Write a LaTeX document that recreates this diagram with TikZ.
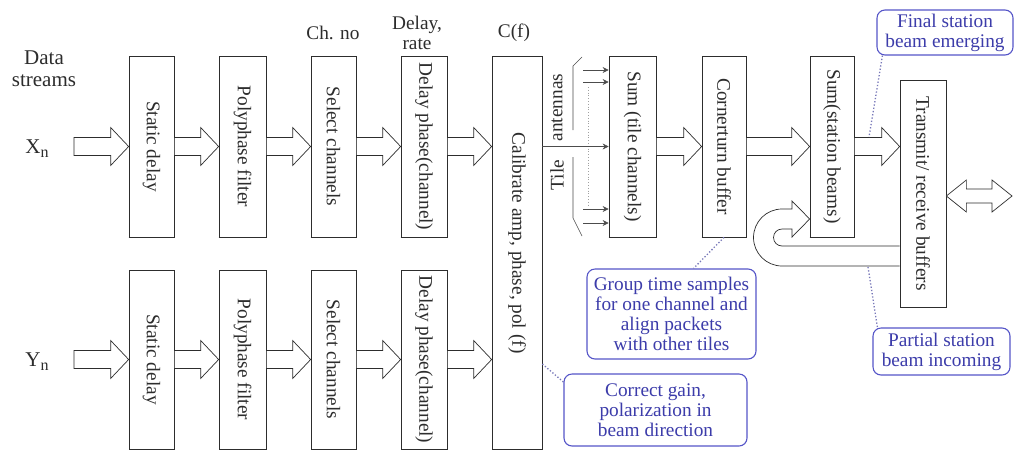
\documentclass[tikz,border=0pt]{standalone}
\usepackage{fontspec}
\setmainfont{Liberation Serif}
\usepackage{graphicx}
\usetikzlibrary{calc,arrows.meta}

\definecolor{ink}{RGB}{45,45,45}
\definecolor{cbord}{RGB}{85,85,200}
\definecolor{ctext}{RGB}{60,60,170}
\definecolor{cdot}{RGB}{120,120,185}

\tikzset{
  box/.style={draw=ink, line width=0.7pt, fill=white, inner sep=0pt, text=ink},
  blockarr/.style={draw=ink, line width=0.7pt, fill=white, line join=miter},
  callout/.style={draw=cbord, line width=1.1pt, rounded corners=8pt, text=ctext,
                  align=center, inner sep=0pt},
  leader/.style={draw=cdot, dotted, line width=1.3pt},
  thinarr/.style={draw=ink!85, line width=0.6pt, -{Stealth[length=6pt,width=6pt]}},
  lbl/.style={text=ink, align=center, inner sep=0pt},
}

% hollow block arrow: shaft starts at #1, head tip on the x of #2
\newcommand\blockarrow[2]{%
  \draw[blockarr] let \p1=(#1), \p2=(#2) in
    (\x1,\y1+9pt) -- (\x2-18pt,\y1+9pt) -- (\x2-18pt,\y1+19pt) -- (\x2,\y1)
    -- (\x2-18pt,\y1-19pt) -- (\x2-18pt,\y1-9pt) -- (\x1,\y1-9pt) -- cycle;}

\begin{document}
\begin{tikzpicture}[x=1pt,y=-1pt,font=\fontsize{19.3pt}{20pt}\selectfont]
\useasboundingbox (0,0) rectangle (1014,451);
\fill[white] (0,0) rectangle (1014,451);

% input labels
\node[lbl, font=\fontsize{21pt}{22pt}\selectfont] (ds) at (44,69) {Data\\streams};
\node[lbl, font=\fontsize{21pt}{22pt}\selectfont] (xn) at (37,149) {X\raisebox{-0.4ex}{\fontsize{16pt}{16pt}\selectfont n}};
\node[lbl, font=\fontsize{21pt}{22pt}\selectfont] (yn) at (37,362) {Y\raisebox{-0.4ex}{\fontsize{16pt}{16pt}\selectfont n}};
\node[lbl] (chno) at (333,33) {Ch. no};
\node[lbl] (dr) at (417,33) {Delay,\\rate};
\node[lbl] (cf) at (514,33) {C(f)};

% X polarisation chain
\node[box, minimum width=45, minimum height=181] (sd1) at (151.5,146.5) {\rotatebox{-90}{Static delay}};
\node[box, minimum width=47, minimum height=181] (pf1) at (242.5,146.5) {\rotatebox{-90}{Polyphase filter}};
\node[box, minimum width=45, minimum height=181] (sc1) at (333.5,146.5) {\rotatebox{-90}{Select channels}};
\node[box, minimum width=46, minimum height=181] (dp1) at (424,146.5) {\rotatebox{-90}{Delay phase(channel)}};

% Y polarisation chain
\node[box, minimum width=45, minimum height=179] (sd2) at (151.5,359.5) {\rotatebox{-90}{Static delay}};
\node[box, minimum width=47, minimum height=179] (pf2) at (242.5,359.5) {\rotatebox{-90}{Polyphase filter}};
\node[box, minimum width=45, minimum height=179] (sc2) at (333.5,359.5) {\rotatebox{-90}{Select channels}};
\node[box, minimum width=46, minimum height=179] (dp2) at (424,359.5) {\rotatebox{-90}{Delay phase(channel)}};

% calibration spanning both chains
\node[box, minimum width=50, minimum height=393] (cal) at (517,252.5) {};
\node[lbl, rotate=-90] (calt) at (517,243) {Calibrate amp, phase, pol (f)};

% beamforming stages
\node[box, minimum width=47, minimum height=181] (sum) at (632.5,146.5) {\rotatebox{-90}{Sum (tile channels)}};
\node[box, minimum width=44, minimum height=181] (cb) at (724,146.5) {\rotatebox{-90}{Cornerturn buffer}};
\node[box, minimum width=44, minimum height=181] (ssb) at (832,146.5) {\rotatebox{-90}{Sum(station beams)}};
\node[box, minimum width=46, minimum height=227] (trb) at (923,193.5) {\rotatebox{-90}{Transmit/ receive buffers}};

% heavier lower edges
\foreach \n in {sd1,pf1,sc1,dp1,sum,cb,ssb}
  \draw[ink, line width=1.3pt] (\n.south west) -- (\n.south east);

% block arrows
\coordinate (xin) at (74,146.5);
\coordinate (yin) at (74,359.5);
\blockarrow{xin}{sd1.west}
\blockarrow{sd1.east}{pf1.west}
\blockarrow{pf1.east}{sc1.west}
\blockarrow{sc1.east}{dp1.west}
\blockarrow{dp1.east}{cal.west}
\blockarrow{yin}{sd2.west}
\blockarrow{sd2.east}{pf2.west}
\blockarrow{pf2.east}{sc2.west}
\blockarrow{sc2.east}{dp2.west}
\blockarrow{dp2.east}{cal.west}
\blockarrow{sum.east}{cb.west}
\blockarrow{cb.east}{ssb.west}
\blockarrow{ssb.east}{trb.west}

% two-way arrow at the output
\coordinate (dout) at (1012,196);
\draw[blockarr] let \p1=(trb.east), \p2=(dout) in
  (\x1,\y2) -- (\x1+20pt,\y2+16pt) -- (\x1+20pt,\y2+7pt) -- (\x2-20pt,\y2+7pt)
  -- (\x2-20pt,\y2+16pt) -- (\x2,\y2) -- (\x2-20pt,\y2-16pt) -- (\x2-20pt,\y2-7pt)
  -- (\x1+20pt,\y2-7pt) -- (\x1+20pt,\y2-16pt) -- cycle;

% returning partial beam (U-turn)
\draw[blockarr] (trb.west |- 0,266) -- (782,266)
  arc[start angle=90, end angle=270, radius=28.5] -- (792,209) -- (792,201)
  -- (ssb.west |- 0,219) -- (792,237) -- (792,229) -- (782,229)
  arc[start angle=270, end angle=90, radius=8.5] -- (trb.west |- 0,246);

% tile antenna inputs
\node[lbl, rotate=90] (ant) at (557,107.5) {antennas};
\node[lbl, rotate=90] (tile) at (557,175) {Tile};
\draw[ink!85, line width=0.6pt] (582,57) -- (573,66) -- (573,130);
\draw[ink!85, line width=0.6pt] (573,157) -- (573,218) -- (582,236);
\draw[ink!45, dotted, line width=0.8pt] (588,87) -- (588,207);
\coordinate (a1) at (583,70);
\coordinate (a2) at (583,82);
\coordinate (a3) at (583,209);
\coordinate (a4) at (583,223);
\foreach \a in {a1,a2,a3,a4}
  \draw[thinarr] (\a) -- (\a -| sum.west);
\draw[thinarr] (cal.east |- sum.west) -- (sum.west);

% notes
\node[callout, minimum width=136, minimum height=45] (fin) at (945,32.5) {Final station\\beam emerging};
\node[callout, minimum width=169, minimum height=90] (grp) at (671.5,314) {Group time samples\\for one channel and\\align packets\\with other tiles};
\node[callout, minimum width=183, minimum height=72] (corr) at (655.5,410) {Correct gain,\\polarization in\\beam direction};
\node[callout, minimum width=137, minimum height=47] (par) at (941.5,351.5) {Partial station\\beam incoming};

\coordinate (fs) at (869,137);
\coordinate (ps) at (868,267);
\draw[leader] ($(fin.south west)+(6,0)$) -- (fs);
\draw[leader] (ps) -- ($(par.north west)+(5,0)$);
\draw[leader] (cb.south) -- ($(grp.north)+(22,0)$);
\draw[leader] (cal.east |- 0,364) -- (corr.west |- 0,382);
\end{tikzpicture}
\end{document}
